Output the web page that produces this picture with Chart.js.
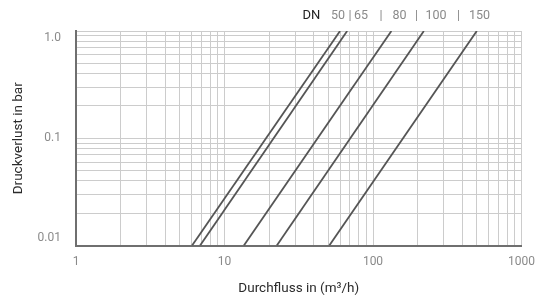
<!DOCTYPE html>
<html>
<head>
<meta charset="utf-8">
<script src="https://cdn.jsdelivr.net/npm/chart.js@4.4.1/dist/chart.umd.min.js"></script>
<style>
  html, body { margin: 0; padding: 0; background: #ffffff; }
  #wrap { position: relative; width: 536px; height: 299px; }
</style>
</head>
<body>
<div id="wrap"><canvas id="c" width="536" height="299"></canvas></div>
<script>
// ---- data ----
const dnLabels   = ['50', '65', '80', '100', '150'];
const flowLow    = [6.05, 6.85, 13.5, 22.5, 50.8];   // m³/h at 0.01 bar
const flowHigh   = [60, 67, 133, 220, 500];          // m³/h at 1.0 bar
const pressLow   = 0.01;
const pressHigh  = 1.0;
const xDecades   = [1, 10, 100, 1000];
const xTickText  = ['1', '10', '100', '1000'];
const yDecades   = [0.01, 0.1, 1];
const yTickText  = ['0.01', '0.1', '1.0'];

const FONT = "'Roboto', 'Liberation Sans', sans-serif";

function logTicks(decades) {
  const out = [];
  for (let i = 0; i < decades.length; i++) {
    const d = decades[i];
    if (i === decades.length - 1) { out.push(d); break; }
    for (let k = 1; k <= 9; k++) out.push(+(d * k).toPrecision(6));
  }
  return out;
}

const datasets = dnLabels.map((dn, i) => ({
  label: 'DN ' + dn,
  data: [{x: flowLow[i], y: pressLow}, {x: flowHigh[i], y: pressHigh}],
  borderColor: '#555555',
  borderWidth: 1.8,
  pointRadius: 0,
  fill: false,
  tension: 0
}));

const headerPlugin = {
  id: 'dnHeader',
  afterDraw(chart) {
    const ctx = chart.ctx;
    ctx.save();
    ctx.textBaseline = 'middle';
    const y = 16;
    const parts = [
      ['DN', 302.5, '#222222'],
      [dnLabels[0], 331, '#8a8a8a'], ['|', 348.5, '#8a8a8a'],
      [dnLabels[1], 354, '#8a8a8a'], ['|', 379.5, '#8a8a8a'],
      [dnLabels[2], 392.5, '#8a8a8a'], ['|', 415, '#8a8a8a'],
      [dnLabels[3], 425.5, '#8a8a8a'], ['|', 457, '#8a8a8a'],
      [dnLabels[4], 469, '#8a8a8a']
    ];
    parts.forEach(([t, x, c], i) => {
      ctx.font = (i === 0 ? "13px " : "12.5px ") + FONT;
      ctx.fillStyle = c; ctx.fillText(t, x, y);
    });
    ctx.restore();
  }
};

new Chart(document.getElementById('c'), {
  type: 'line',
  data: { datasets },
  plugins: [headerPlugin],
  options: {
    responsive: false,
    animation: false,
    events: [],
    layout: { padding: { top: 31, right: 14.5, left: 0, bottom: 0 } },
    plugins: { legend: { display: false }, tooltip: { enabled: false } },
    scales: {
      x: {
        type: 'logarithmic',
        min: xDecades[0],
        max: xDecades[xDecades.length - 1],
        afterBuildTicks(scale) { scale.ticks = logTicks(xDecades).map(v => ({value: v})); },
        afterFit(scale) { scale.height = 53.5; scale.paddingLeft = 0; scale.paddingRight = 0; },
        grid: { color: '#cccccc', lineWidth: 1, drawTicks: false },
        border: { color: '#6f6f6f', width: 2 },
        ticks: {
          autoSkip: false, maxRotation: 0, padding: 9,
          color: '#8a8a8a', font: { family: FONT, size: 12 },
          callback(v) { const i = xDecades.indexOf(+v); return i >= 0 ? xTickText[i] : ''; }
        },
        title: {
          display: true, text: 'Durchfluss in (m³/h)', color: '#2b2b2b',
          font: { family: FONT, size: 13.5 }, padding: { top: 0, bottom: 2 }
        }
      },
      y: {
        type: 'logarithmic',
        min: yDecades[0],
        max: yDecades[yDecades.length - 1],
        afterBuildTicks(scale) { scale.ticks = logTicks(yDecades).map(v => ({value: v})); },
        afterFit(scale) { scale.width = 76; scale.paddingTop = 0; scale.paddingBottom = 0; },
        grid: { color: '#cccccc', lineWidth: 1, drawTicks: false },
        border: { color: '#6f6f6f', width: 2 },
        ticks: {
          autoSkip: false, padding: 15,
          color: '#8a8a8a', font: { family: FONT, size: 12 },
          callback(v) {
            const i = yDecades.findIndex(d => Math.abs(d - v) < 1e-9);
            if (i < 0) return '';
            if (i === yDecades.length - 1) return ['', yTickText[i]];   // nudge top label into the plot
            if (i === 0) return [yTickText[i], ''];                      // nudge bottom label into the plot
            return yTickText[i];
          }
        },
        title: {
          display: true, text: 'Druckverlust in bar', color: '#2b2b2b',
          font: { family: FONT, size: 13.5 }, padding: { top: 11, bottom: 0 }
        }
      }
    }
  }
});
</script>
</body>
</html>
